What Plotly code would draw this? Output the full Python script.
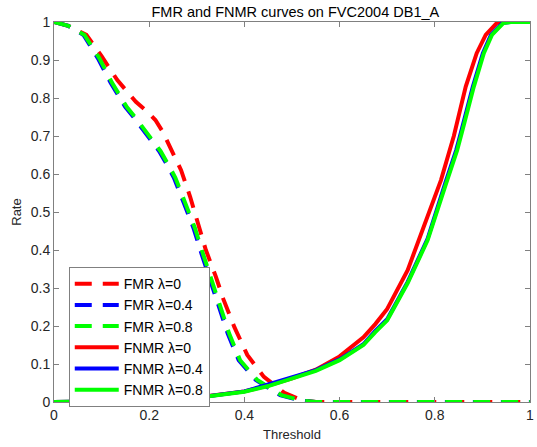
import plotly.graph_objects as go

# FMR curves (dashed)
fmr_t_r = [0.0, 0.03, 0.068, 0.10, 0.133, 0.172, 0.195, 0.213, 0.228, 0.242, 0.267, 0.286, 0.302, 0.319, 0.34, 0.356, 0.379, 0.406, 0.441, 0.484, 0.52, 0.55, 1.0]
fmr_r   = [1.0, 0.99, 0.966, 0.91, 0.847, 0.79, 0.765, 0.742, 0.712, 0.676, 0.61, 0.54, 0.47, 0.40, 0.33, 0.27, 0.197, 0.124, 0.066, 0.024, 0.005, 0.0, 0.0]
fmr_t_g = [0.0, 0.03, 0.064, 0.095, 0.122, 0.153, 0.17, 0.188, 0.206, 0.224, 0.24, 0.255, 0.275, 0.296, 0.313, 0.333, 0.35, 0.368, 0.391, 0.427, 0.478, 0.52, 0.55, 1.0]
fmr_g   = [1.0, 0.99, 0.966, 0.905, 0.84, 0.776, 0.75, 0.72, 0.692, 0.66, 0.625, 0.59, 0.526, 0.458, 0.39, 0.315, 0.25, 0.18, 0.11, 0.058, 0.018, 0.004, 0.0, 0.0]
fmr_t_b = [0.0, 0.03, 0.062, 0.092, 0.119, 0.150, 0.167, 0.185, 0.203, 0.221, 0.237, 0.252, 0.272, 0.293, 0.310, 0.330, 0.347, 0.365, 0.388, 0.424, 0.475, 0.518, 0.55, 1.0]
fmr_b   = [1.0, 0.99, 0.966, 0.905, 0.84, 0.776, 0.75, 0.72, 0.692, 0.66, 0.625, 0.59, 0.526, 0.458, 0.39, 0.315, 0.25, 0.18, 0.11, 0.058, 0.018, 0.004, 0.0, 0.0]

# FNMR curves (solid)
fnmr_t_r = [0.0, 0.1, 0.2, 0.3, 0.4, 0.45, 0.5, 0.55, 0.6, 0.65, 0.675, 0.7, 0.743, 0.785, 0.813, 0.84, 0.865, 0.888, 0.907, 0.93, 0.945, 1.0]
fnmr_r   = [0.0, 0.001, 0.005, 0.012, 0.028, 0.043, 0.062, 0.085, 0.12, 0.17, 0.205, 0.245, 0.347, 0.487, 0.584, 0.70, 0.83, 0.918, 0.966, 0.997, 1.0, 1.0]
fnmr_t_g = [0.0, 0.1, 0.2, 0.3, 0.4, 0.45, 0.5, 0.55, 0.6, 0.65, 0.675, 0.7, 0.743, 0.785, 0.824, 0.847, 0.857, 0.882, 0.903, 0.92, 0.944, 0.96, 1.0]
fnmr_g   = [0.0, 0.001, 0.004, 0.011, 0.027, 0.042, 0.062, 0.082, 0.11, 0.15, 0.184, 0.215, 0.313, 0.426, 0.576, 0.663, 0.71, 0.83, 0.918, 0.966, 0.997, 1.0, 1.0]
fnmr_t_b = [0.0, 0.1, 0.2, 0.3, 0.4, 0.45, 0.5, 0.55, 0.6, 0.65, 0.675, 0.7, 0.743, 0.785, 0.822, 0.845, 0.855, 0.880, 0.901, 0.918, 0.942, 0.958, 1.0]
fnmr_b   = [0.0, 0.001, 0.004, 0.011, 0.028, 0.046, 0.066, 0.084, 0.112, 0.152, 0.187, 0.218, 0.316, 0.43, 0.576, 0.663, 0.71, 0.83, 0.918, 0.966, 0.997, 1.0, 1.0]

names = ["FMR λ=0", "FMR λ=0.4", "FMR λ=0.8", "FNMR λ=0", "FNMR λ=0.4", "FNMR λ=0.8"]
colors = ["#ff0000", "#0000ff", "#00ff00"]

x_ticks = [0, 0.2, 0.4, 0.6, 0.8, 1]
x_labels = ["0", "0.2", "0.4", "0.6", "0.8", "1"]
y_ticks = [0, 0.1, 0.2, 0.3, 0.4, 0.5, 0.6, 0.7, 0.8, 0.9, 1]
y_labels = ["0", "0.1", "0.2", "0.3", "0.4", "0.5", "0.6", "0.7", "0.8", "0.9", "1"]

fig = go.Figure()
series = [
    (fmr_t_r, fmr_r, 0, "17px,11px"),
    (fmr_t_b, fmr_b, 1, "17px,11px"),
    (fmr_t_g, fmr_g, 2, "17px,11px"),
    (fnmr_t_r, fnmr_r, 0, "solid"),
    (fnmr_t_b, fnmr_b, 1, "solid"),
    (fnmr_t_g, fnmr_g, 2, "solid"),
]
for i, (xs, ys, ci, dash) in enumerate(series):
    fig.add_trace(go.Scatter(x=xs, y=ys, mode="lines", name=names[i],
                             line=dict(color=colors[ci], width=4, dash=dash)))

axis_common = dict(showline=True, linecolor="#808080", linewidth=1, mirror="ticks",
                   ticks="inside", ticklen=5, tickcolor="#808080", showgrid=False,
                   zeroline=False, ticklabeloverflow="allow",
                   tickfont=dict(family="Liberation Sans, Arial", size=14, color="#262626"))
fig.update_layout(
    width=537, height=447,
    margin=dict(l=54, r=3, t=22, b=45),
    paper_bgcolor="white", plot_bgcolor="white",
    title=dict(text="FMR and FNMR curves on FVC2004 DB1_A", x=0.55, xanchor="center",
               y=0.973, yanchor="middle",
               font=dict(family="Liberation Sans, Arial", size=14.5, color="#000000")),
    xaxis=dict(range=[0, 1], tickvals=x_ticks, ticktext=x_labels,
               title=dict(text="Threshold", standoff=8,
                          font=dict(family="Liberation Sans, Arial", size=13, color="#262626")),
               **axis_common),
    yaxis=dict(range=[0, 1], tickvals=y_ticks, ticktext=y_labels,
               title=dict(text="Rate", standoff=6,
                          font=dict(family="Liberation Sans, Arial", size=13, color="#262626")),
               **axis_common),
    legend=dict(x=0.031, y=0.355, xanchor="left", yanchor="top",
                bgcolor="white", bordercolor="#808080", borderwidth=1,
                font=dict(family="Liberation Sans, Arial", size=14, color="#000000"),
                itemwidth=44, tracegroupgap=0),
    showlegend=True,
)
fig.write_html("out.html")
